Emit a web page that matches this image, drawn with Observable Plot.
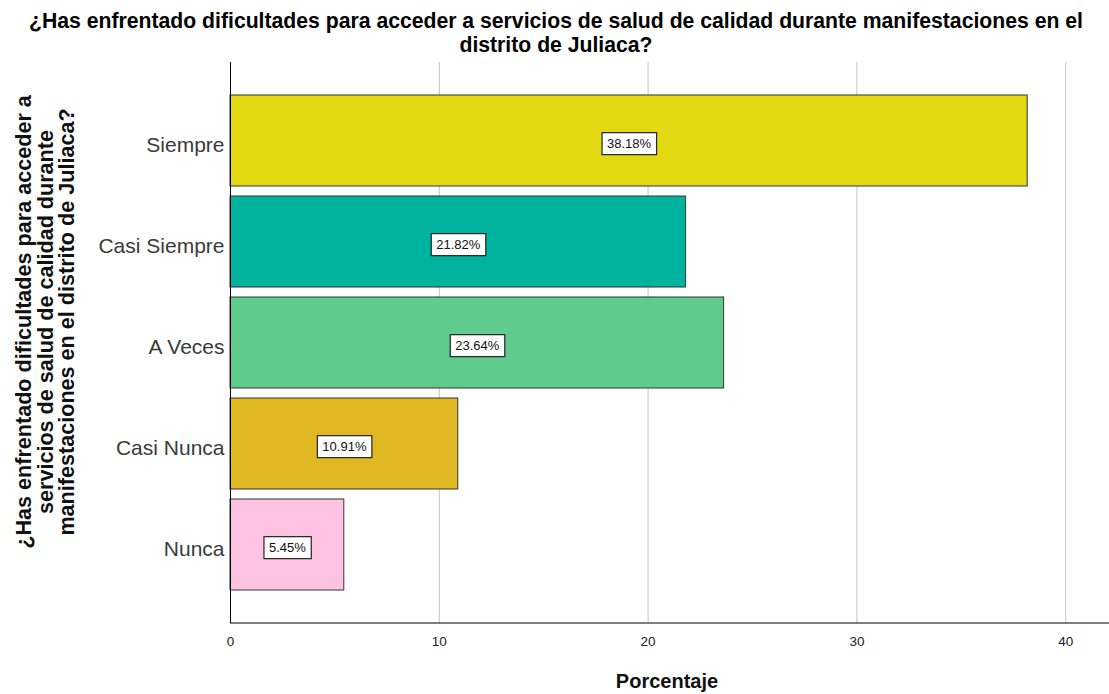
<!DOCTYPE html>
<html><head><meta charset="utf-8">
<script src="https://cdn.jsdelivr.net/npm/d3@7"></script>
<script src="https://cdn.jsdelivr.net/npm/@observablehq/plot@0.6"></script>
<style>
body{margin:0;background:#fff;}
#chart{position:relative;width:1109px;height:694px;}
</style></head><body><div id="chart"></div>
<script>
const categories = ["Siempre", "Casi Siempre", "A Veces", "Casi Nunca", "Nunca"];
const values = [38.18, 21.82, 23.64, 10.91, 5.45];
const colors = ["#e2d912", "#00b39f", "#5fcb8c", "#e0b822", "#fec3e2"];
const xTicks = [0, 10, 20, 30, 40];
const titleLines = ["¿Has enfrentado dificultades para acceder a servicios de salud de calidad durante manifestaciones en el", "distrito de Juliaca?"];
const yTitleLines = ["¿Has enfrentado dificultades para acceder a", "servicios de salud de calidad durante", "manifestaciones en el distrito de Juliaca?"];
const xTitle = "Porcentaje";

const FONT = '"Liberation Sans", Arial, Helvetica, sans-serif';
const data = categories.map((c, i) => ({cat: c, value: values[i]}));

const chart = Plot.plot({
  width: 1109, height: 694,
  marginLeft: 230, marginRight: 1, marginTop: 62, marginBottom: 71,
  style: {fontFamily: FONT, background: "#fff", overflow: "visible"},
  x: {domain: [0, 42.05], label: null},
  y: {domain: categories, paddingInner: 0.1, paddingOuter: 0.327, label: null},
  color: {domain: categories, range: colors},
  marks: [
    Plot.gridX(xTicks.filter(d => d > 0), {stroke: "#c4c4c4", strokeOpacity: 1, strokeWidth: 1}),
    Plot.barX(data, {x: "value", y: "cat", fill: "cat", stroke: "#333", strokeWidth: 1}),
    Plot.ruleX([0], {stroke: "#000", strokeWidth: 1}),
    Plot.axisX({ticks: xTicks, tickSize: 0, tickPadding: 13, fontSize: 13.5, fill: "#222", label: null}),
    Plot.axisY({tickSize: 0, tickPadding: 6, fontSize: 21, fill: "#3a3a3a", dy: 4, label: null}),
    Plot.text(data, {x: d => d.value / 2, y: "cat", text: d => d.value.toFixed(2) + "%", fontSize: 13, fill: "#111", dy: 3})
  ]
});
document.getElementById("chart").appendChild(chart);

const svg = d3.select(chart);
const xs = chart.scale("x");
const [x0, x1] = xs.range;
const yBottom = 694 - 71;

// bottom axis line
svg.append("line").attr("x1", x0).attr("x2", x1 + 1).attr("y1", yBottom).attr("y2", yBottom)
  .attr("stroke", "#000").attr("stroke-width", 1.2);

// boxes behind value labels
svg.selectAll('g[aria-label="text"] text').each(function () {
  const b = this.getBBox();
  d3.select(this.parentNode).insert("rect", () => this)
    .attr("transform", this.getAttribute("transform"))
    .attr("x", b.x - 5).attr("y", b.y - 3.5).attr("width", b.width + 10).attr("height", b.height + 7)
    .attr("fill", "#fff").attr("stroke", "#222").attr("stroke-width", 1.2);
});

// title
svg.append("g").attr("font-family", FONT).attr("font-weight", "bold").attr("font-size", 21.2)
  .attr("text-anchor", "middle").attr("fill", "#000")
  .selectAll("text").data(titleLines).join("text")
  .attr("x", 556).attr("y", (d, i) => 28 + i * 23.5).text(d => d);

// y title
svg.append("g").attr("font-family", FONT).attr("font-weight", "bold").attr("font-size", 21.6)
  .attr("text-anchor", "middle").attr("fill", "#111")
  .selectAll("text").data(yTitleLines).join("text")
  .attr("transform", (d, i) => `translate(${31 + i * 21.5},322) rotate(-90)`).text(d => d);

// x title
svg.append("text").attr("font-family", FONT).attr("font-weight", "bold").attr("font-size", 20)
  .attr("text-anchor", "middle").attr("fill", "#111")
  .attr("x", 667).attr("y", 688).text(xTitle);
</script>
</body></html>
